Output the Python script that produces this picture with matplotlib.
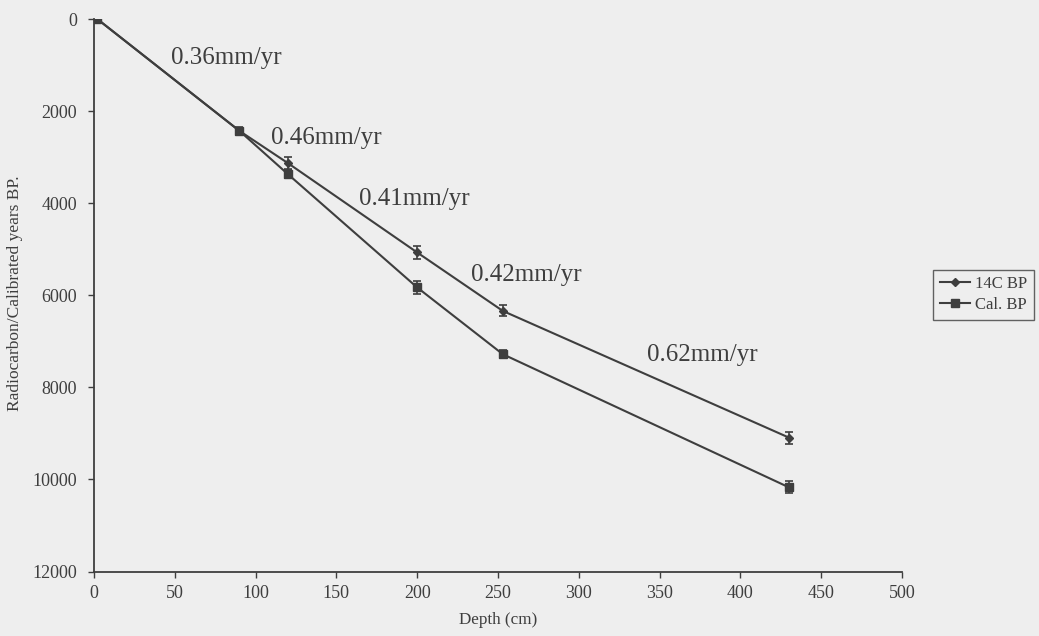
import numpy as np
import matplotlib
matplotlib.use("Agg")
import matplotlib.pyplot as plt

# depth (cm) and ages
depth = [2, 90, 120, 200, 253, 430]
c14_bp = [0, 2430, 3130, 5070, 6340, 9090]
c14_err = [0, 60, 130, 140, 120, 130]
cal_bp = [0, 2430, 3370, 5830, 7280, 10170]
cal_err = [0, 80, 90, 140, 90, 130]

rate_labels = ["0.36mm/yr", "0.46mm/yr", "0.41mm/yr", "0.42mm/yr", "0.62mm/yr"]
rate_x = [47.5, 109.5, 164, 233.5, 342]
rate_y = [840, 2580, 3900, 5550, 7300]

x_ticks = [0, 50, 100, 150, 200, 250, 300, 350, 400, 450, 500]
y_ticks = [0, 2000, 4000, 6000, 8000, 10000, 12000]

bg = "#eeeeee"
ink = "#3e3e3e"

plt.rcParams['font.family'] = ['Liberation Serif', 'DejaVu Serif']

fig = plt.figure(figsize=(10.39, 6.36), dpi=100, facecolor=bg)
ax = fig.add_axes([0.0905, 0.1014, 0.7775, 0.8687])
ax.set_facecolor(bg)

# error bars drawn apart so the legend shows only line + marker
ax.errorbar(depth, c14_bp, yerr=c14_err, fmt="none", ecolor=ink,
            capsize=3, elinewidth=1.2, capthick=1.2)
ax.errorbar(depth, cal_bp, yerr=cal_err, fmt="none", ecolor=ink,
            capsize=3, elinewidth=1.2, capthick=1.2)
ax.plot(depth, c14_bp, color=ink, lw=1.5, marker="D", ms=4, label="14C BP")
ax.plot(depth, cal_bp, color=ink, lw=1.5, marker="s", ms=6, label="Cal. BP")

for txt, tx, ty in zip(rate_labels, rate_x, rate_y):
    ax.text(tx, ty, txt, ha="left", va="center", fontsize=18, color=ink)

ax.set_xlim(0, 500)
ax.set_ylim(12000, 0)
ax.set_xticks(x_ticks)
ax.set_yticks(y_ticks)
ax.tick_params(axis="both", labelsize=13, colors=ink, width=1, length=4, pad=8)
ax.tick_params(axis="x", pad=6)

for s in ["top", "right"]:
    ax.spines[s].set_visible(False)
for s in ["left", "bottom"]:
    ax.spines[s].set_color(ink)
    ax.spines[s].set_linewidth(1.3)

ax.set_xlabel("Depth (cm)", fontsize=12.3, color=ink, labelpad=7)
fig.text(0.0145, 0.539, "Radiocarbon/Calibrated years BP.", rotation=90,
         ha="center", va="center", fontsize=12.5, color=ink)

leg = ax.legend(loc="center", bbox_to_anchor=(0.9465, 0.5365), bbox_transform=fig.transFigure,
                frameon=True, fancybox=False, fontsize=12, handlelength=1.8,
                handletextpad=0.3, borderpad=0.4, labelspacing=0.3)
leg.get_frame().set_edgecolor(ink)
leg.get_frame().set_facecolor(bg)
leg.get_frame().set_linewidth(1)
for t in leg.get_texts():
    t.set_color(ink)

fig.savefig("out.png", dpi=100, facecolor=bg)
